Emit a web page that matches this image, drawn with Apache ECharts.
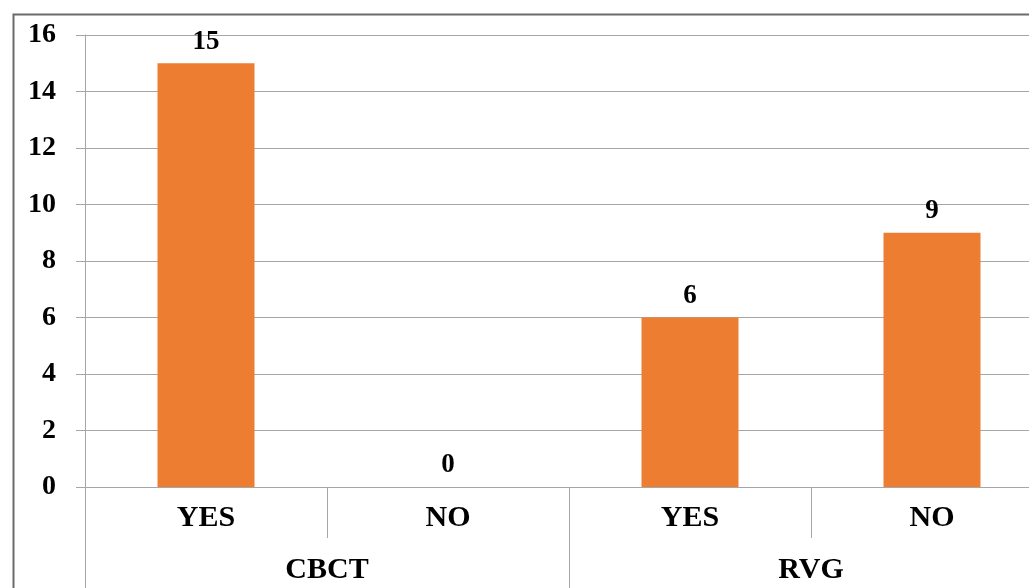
<!DOCTYPE html>
<html>
<head>
<meta charset="utf-8">
<script src="https://cdn.jsdelivr.net/npm/echarts@6/dist/echarts.min.js"></script>
<style>
html,body{margin:0;padding:0;background:#fff;overflow:hidden;width:1029px;height:588px;}
#chart{width:1053px;height:588px;}
</style>
</head>
<body>
<div id="chart"></div>
<script>
var categories = ['YES', 'NO', 'YES', 'NO'];
var groups = ['CBCT', 'RVG'];
var values = [15, 0, 6, 9];
var yTicks = {min: 0, max: 16, interval: 2};

var font = '"Liberation Serif", "Times New Roman", serif';
var gray = '#A6A6A6';
var chart = echarts.init(document.getElementById('chart'));
chart.setOption({
  animation: false,
  backgroundColor: '#fff',
  graphic: [{
    type: 'rect', left: 11, top: 12, silent: true,
    shape: {width: 1100, height: 700},
    style: {fill: 'none', stroke: '#6b6b6b', lineWidth: 2}
  }],
  grid: {left: 85, right: 0, top: 35, bottom: 101, containLabel: false},
  xAxis: [{
    type: 'category', data: categories, position: 'bottom',
    axisLine: {show: true, lineStyle: {color: gray, width: 1}},
    axisTick: {show: true, length: 51, lineStyle: {color: gray, width: 1}},
    axisLabel: {margin: 16, fontFamily: font, fontWeight: 'bold', fontSize: 30, color: '#000'}
  }, {
    type: 'category', data: groups, position: 'bottom',
    axisLine: {show: false},
    axisTick: {show: true, length: 120, lineStyle: {color: gray, width: 1}},
    axisLabel: {margin: 68, fontFamily: font, fontWeight: 'bold', fontSize: 30, color: '#000'}
  }],
  yAxis: {
    type: 'value', min: yTicks.min, max: yTicks.max, interval: yTicks.interval,
    axisLine: {show: true, lineStyle: {color: gray, width: 1}},
    axisTick: {show: true, length: 9, lineStyle: {color: gray}},
    splitLine: {show: true, lineStyle: {color: gray, width: 1}},
    axisLabel: {margin: 29, fontFamily: font, fontWeight: 'bold', fontSize: 28, color: '#000'}
  },
  series: [{
    type: 'bar', data: values, xAxisIndex: 0, barWidth: 97,
    itemStyle: {color: '#ED7D31'},
    label: {show: true, position: 'top', distance: 8, fontFamily: font, fontWeight: 'bold', fontSize: 27, color: '#000'}
  }]
});
</script>
</body>
</html>
